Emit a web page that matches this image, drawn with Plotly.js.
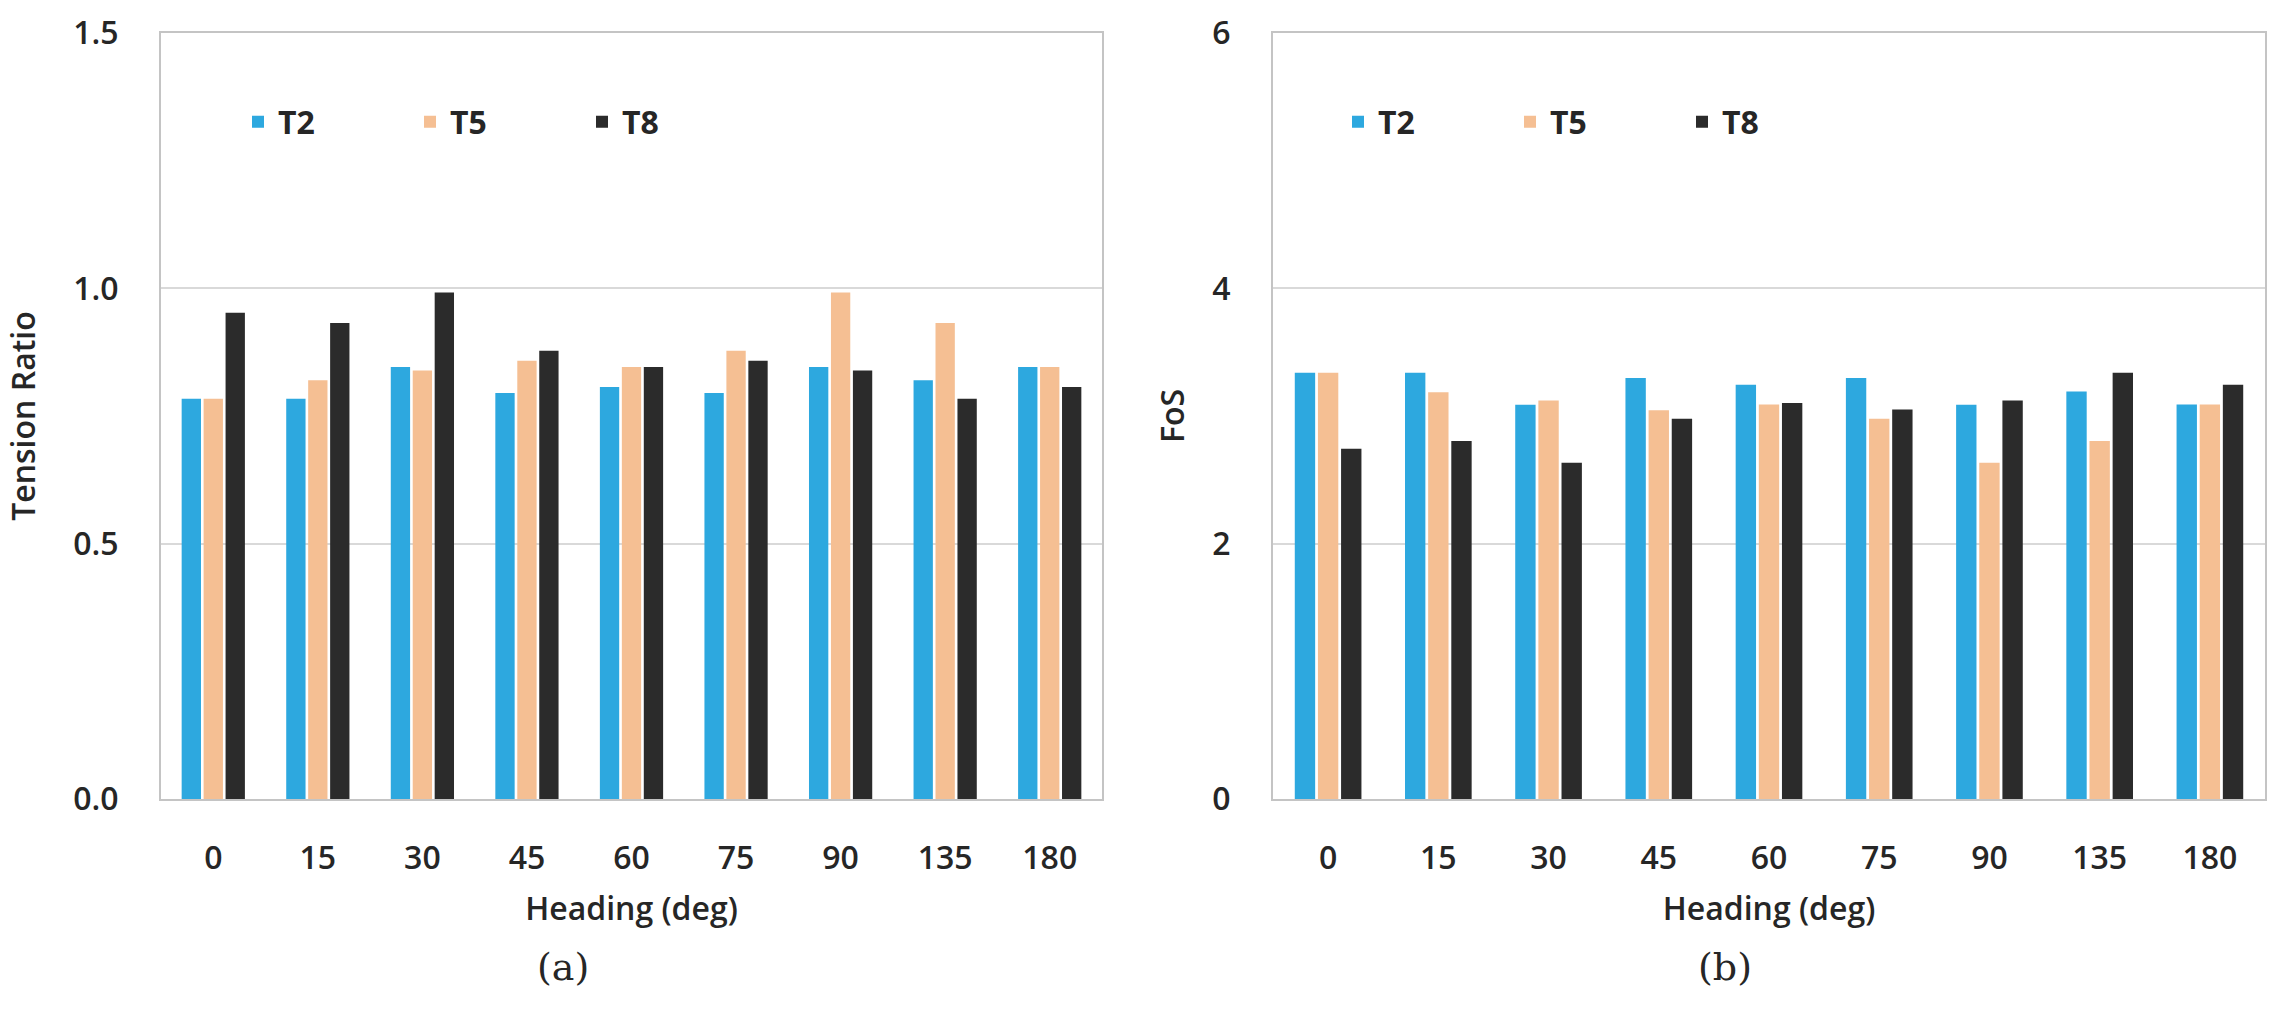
<!DOCTYPE html>
<html>
<head>
<meta charset="utf-8">
<script src="https://cdn.plot.ly/plotly-3.0.1.min.js"></script>
<style>
html,body{margin:0;padding:0;background:#fff;}
#chart{width:2282px;height:1014px;}
</style>
</head>
<body>
<div id="chart"></div>
<script>
// ---- data ----
const headings = ["0", "15", "30", "45", "60", "75", "90", "135", "180"];
const seriesNames = ["T2", "T5", "T8"];
const seriesColors = ["#2DA8DF", "#F5BF93", "#2B2B2B"];

// (a) Tension Ratio
const ratioT2 = [0.784, 0.784, 0.846, 0.795, 0.807, 0.795, 0.846, 0.820, 0.846];
const ratioT5 = [0.784, 0.820, 0.839, 0.858, 0.846, 0.878, 0.992, 0.932, 0.846];
const ratioT8 = [0.952, 0.932, 0.992, 0.878, 0.846, 0.858, 0.839, 0.784, 0.807];

// (b) FoS
const fosT2 = [3.339, 3.339, 3.088, 3.297, 3.245, 3.297, 3.088, 3.192, 3.090];
const fosT5 = [3.339, 3.187, 3.122, 3.046, 3.090, 2.978, 2.633, 2.805, 3.090];
const fosT8 = [2.743, 2.805, 2.633, 2.978, 3.101, 3.051, 3.122, 3.339, 3.245];

const leftTicks = [0, 0.5, 1.0, 1.5];
const leftTickText = ["0.0", "0.5", "1.0", "1.5"];
const rightTicks = [0, 2, 4, 6];

// ---- traces ----
const W = 2282, H = 1014;
const txtColor = "#262626";
const baseFont = {family: "'Open Sans', 'DejaVu Sans', sans-serif", size: 32, color: txtColor, weight: 600};

const ratioSets = [ratioT2, ratioT5, ratioT8];
const fosSets = [fosT2, fosT5, fosT8];
const traces = [];
ratioSets.forEach((vals, i) => {
  traces.push({
    type: "bar", x: headings, y: vals, name: seriesNames[i],
    marker: {color: seriesColors[i]},
    xaxis: "x", yaxis: "y", legend: "legend", hoverinfo: "x+y+name"
  });
});
fosSets.forEach((vals, i) => {
  traces.push({
    type: "bar", x: headings, y: vals, name: seriesNames[i],
    marker: {color: seriesColors[i]},
    xaxis: "x2", yaxis: "y2", legend: "legend2", hoverinfo: "x+y+name"
  });
});

const px = v => v / W;
const py = v => 1 - v / H;

const commonX = {
  type: "category",
  categoryorder: "array",
  categoryarray: headings,
  showgrid: false,
  zeroline: false,
  showline: true, mirror: true, linecolor: "#c4c4c4", linewidth: 2,
  ticks: "", ticklabelstandoff: 30,
  tickfont: baseFont,
  title: {text: "Heading (deg)", font: baseFont, standoff: 20}
};
const commonY = {
  showgrid: true, gridcolor: "#d9d9d9", gridwidth: 2,
  zeroline: false,
  showline: true, mirror: true, linecolor: "#c4c4c4", linewidth: 2,
  ticks: "", ticklabelstandoff: 34,
  tickfont: baseFont
};

const legendCommon = {
  orientation: "h", yanchor: "middle", xanchor: "left",
  y: py(122), bgcolor: "rgba(0,0,0,0)", borderwidth: 0,
  entrywidth: 127, entrywidthmode: "pixels",
  font: {family: baseFont.family, size: 32, color: txtColor, weight: 700},
  traceorder: "normal", itemclick: false, itemdoubleclick: false
};

const capFont = {family: "'DejaVu Serif', 'Liberation Serif', serif", size: 38, color: txtColor, weight: 400};

const layout = {
  width: W, height: H,
  margin: {l: 0, r: 0, t: 0, b: 0},
  paper_bgcolor: "#ffffff", plot_bgcolor: "#ffffff",
  barmode: "group", bargap: 0.37, bargroupgap: 0.12,
  font: baseFont,
  xaxis: Object.assign({}, commonX, {domain: [px(161), px(1102)], anchor: "y"}),
  yaxis: Object.assign({}, commonY, {
    domain: [py(799), py(33)], anchor: "x", range: [0, 1.5],
    tickvals: leftTicks, ticktext: leftTickText,
    title: {text: "Tension Ratio", font: baseFont, standoff: 28}
  }),
  xaxis2: Object.assign({}, commonX, {domain: [px(1273), px(2265)], anchor: "y2"}),
  yaxis2: Object.assign({}, commonY, {
    domain: [py(799), py(33)], anchor: "x2", range: [0, 6],
    tickvals: rightTicks,
    title: {text: "FoS", font: baseFont, standoff: 18}
  }),
  legend: Object.assign({}, legendCommon, {x: px(238)}),
  legend2: Object.assign({}, legendCommon, {x: px(1338)}),
  annotations: [
    {text: "(a)", xref: "paper", yref: "paper", x: px(563), y: py(967), showarrow: false,
     xanchor: "center", yanchor: "middle", font: capFont},
    {text: "(b)", xref: "paper", yref: "paper", x: px(1725), y: py(967), showarrow: false,
     xanchor: "center", yanchor: "middle", font: capFont}
  ]
};

Plotly.newPlot("chart", traces, layout, {displayModeBar: false, staticPlot: true});
</script>
</body>
</html>
